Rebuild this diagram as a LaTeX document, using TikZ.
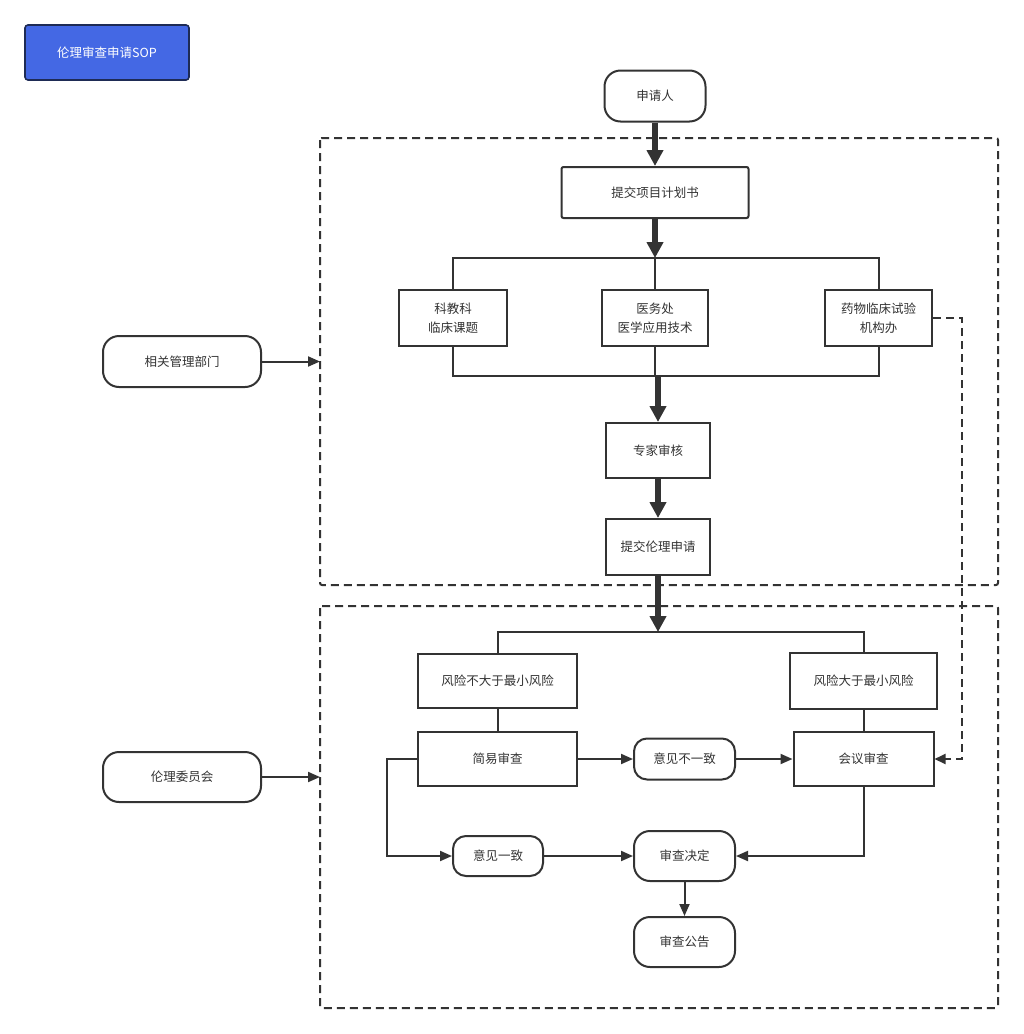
\documentclass[tikz,border=0pt]{standalone}
\usepackage{fontspec}
\newfontfamily\cjk{Noto Sans CJK SC}
\usetikzlibrary{arrows.meta}
\definecolor{dark}{HTML}{333333}
\definecolor{titlefill}{HTML}{4468E4}
\definecolor{titleborder}{HTML}{1E2B55}
\begin{document}
\begin{tikzpicture}[x=1pt,y=-1pt,
  box/.style={draw=dark, line width=2pt, fill=white, text=dark, align=center, inner sep=0pt,
    font=\cjk\fontsize{12.5}{19}\selectfont},
  pill/.style={box, rounded corners=16pt},
  conn/.style={draw=dark, line width=2pt},
  arr/.style={conn, -{Triangle[length=12pt,width=10pt]}},
  thickarr/.style={draw=dark, line width=5.5pt, -{Triangle[length=16pt,width=16pt]}},
  dasharr/.style={draw=dark, line width=2pt, dash pattern=on 8pt off 5pt, -{Triangle[length=11pt,width=10pt]}},
  region/.style={draw=dark, line width=2pt, dash pattern=on 8pt off 5pt, rounded corners=2pt}
]
\useasboundingbox (0,0) rectangle (1024,1034);
\fill[white] (0,0) rectangle (1024,1034);

% title
\node[draw=titleborder, line width=1.6pt, fill=titlefill, text=white, rounded corners=3pt,
  minimum width=164pt, minimum height=55pt, inner sep=0pt, font=\cjk\fontsize{12.5}{14}\selectfont]
  (title) at (107,52.5) {伦理审查申请SOP};

% regions
\draw[region] (320,138) rectangle (998,585);
\draw[region] (320,606) rectangle (998,1008);

% nodes
\node[pill, minimum width=101pt, minimum height=51pt] (shen) at (655,96) {申请人};
\node[box, rounded corners=2pt, minimum width=187pt, minimum height=51pt] (tj) at (655,192.5) {提交项目计划书};
\node[box, minimum width=108pt, minimum height=56pt] (kj) at (453,318) {科教科\\临床课题};
\node[box, minimum width=106pt, minimum height=56pt] (yw) at (655,318) {医务处\\医学应用技术};
\node[box, minimum width=107pt, minimum height=56pt] (yao) at (878.5,318) {药物临床试验\\机构办};
\node[box, minimum width=104pt, minimum height=55pt] (zj) at (658,450.5) {专家审核};
\node[box, minimum width=104pt, minimum height=56pt] (tjll) at (658,547) {提交伦理申请};
\node[box, minimum width=159pt, minimum height=54pt] (fxb) at (497.5,681) {风险不大于最小风险};
\node[box, minimum width=147pt, minimum height=56pt] (fxd) at (863.5,681) {风险大于最小风险};
\node[box, minimum width=159pt, minimum height=54pt] (jy) at (497.5,759) {简易审查};
\node[box, minimum width=140pt, minimum height=54pt] (hy) at (863.5,759) {会议审查};
\node[pill, rounded corners=13pt, minimum width=101pt, minimum height=41pt] (byz) at (684.5,759) {意见不一致};
\node[pill, rounded corners=13pt, minimum width=90pt, minimum height=40pt] (yz) at (498,856) {意见一致};
\node[pill, minimum width=101pt, minimum height=50pt] (jd) at (684.5,856) {审查决定};
\node[pill, minimum width=101pt, minimum height=50pt] (gg) at (684.5,942) {审查公告};
\node[pill, minimum width=158pt, minimum height=51pt] (xg) at (182,361.5) {相关管理部门};
\node[pill, minimum width=158pt, minimum height=50pt] (ll) at (182,777) {伦理委员会};

% coordinates
\coordinate (b1) at (655,258);
\coordinate (m1) at (658,376);
\coordinate (b2) at (658,632);
\coordinate (l1) at (387,759);
\coordinate (d1) at (962,318);
\coordinate (c1) at (320,361.5);
\coordinate (c2) at (320,777);

% top flow
\draw[thickarr] (shen.south) -- (tj.north);
\draw[thickarr] (tj.south) -- (b1);
\draw[conn] (kj.north) |- (b1) -| (yao.north);
\draw[conn] (b1) -- (yw.north);
\draw[conn] (kj.south) |- (m1) -| (yao.south);
\draw[conn] (yw.south) -- (yw.south |- m1);
\draw[thickarr] (m1) -- (zj.north);
\draw[thickarr] (zj.south) -- (tjll.north);
\draw[thickarr] (tjll.south) -- (b2);

% bottom flow
\draw[conn] (fxb.north) |- (b2) -| (fxd.north);
\draw[conn] (fxb.south) -- (jy.north);
\draw[conn] (fxd.south) -- (hy.north);
\draw[arr] (jy.east) -- (byz.west);
\draw[arr] (byz.east) -- (hy.west);
\draw[arr] (jy.west) -- (l1) |- (yz.west);
\draw[arr] (yz.east) -- (jd.west);
\draw[arr] (hy.south) |- (jd.east);
\draw[arr] (jd.south) -- (gg.north);
\draw[dasharr] (yao.east) -- (d1) |- (hy.east);

% side labels
\draw[arr] (xg.east) -- (c1);
\draw[arr] (ll.east) -- (c2);
\end{tikzpicture}
\end{document}
